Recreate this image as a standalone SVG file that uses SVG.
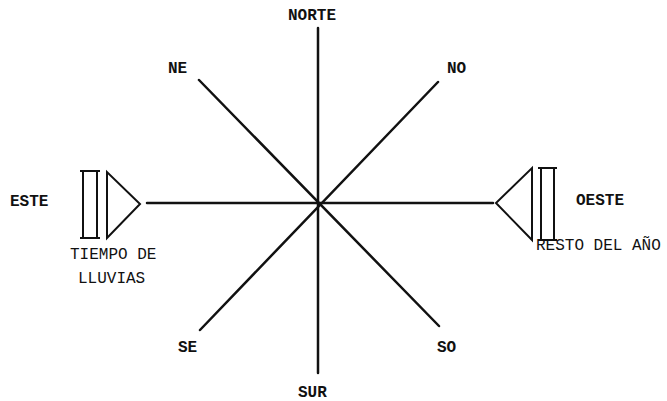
<svg xmlns="http://www.w3.org/2000/svg" width="667" height="401" viewBox="0 0 667 401">
<style>
.ln{stroke:#111;stroke-width:2.5;fill:none;stroke-linecap:round}
.sym{stroke:#111;stroke-width:2;fill:none;stroke-linejoin:miter}
.t{font-family:"Liberation Mono","DejaVu Sans Mono",monospace;font-size:16px;fill:#111}
.b{font-weight:bold}
</style>
<rect width="667" height="401" fill="#fff"/>
<g id="connectors">
<line class="ln" x1="318" y1="28" x2="318" y2="373"/>
<line class="ln" x1="199" y1="80" x2="439" y2="326"/>
<line class="ln" x1="438" y1="82" x2="200" y2="330"/>
<line class="ln" x1="147" y1="203" x2="493" y2="203"/>
</g>
<g id="este-symbol">
<rect class="sym" x="83" y="171" width="14" height="67"/>
<line class="sym" x1="80" y1="171" x2="100" y2="171"/>
<line class="sym" x1="80" y1="238" x2="100" y2="238"/>
<polygon class="sym" points="107,172 107,238 140,204"/>
</g>
<g id="oeste-symbol">
<polygon class="sym" points="532,168 532,240 496,203"/>
<rect class="sym" x="541" y="168" width="13" height="72"/>
<line class="sym" x1="538" y1="168" x2="557" y2="168"/>
<line class="sym" x1="538" y1="240" x2="557" y2="240"/>
</g>
<g id="labels">
<text class="t b" x="288" y="20">NORTE</text>
<text class="t b" x="168" y="73">NE</text>
<text class="t b" x="447" y="73">NO</text>
<text class="t b" x="178" y="352">SE</text>
<text class="t b" x="437" y="352">SO</text>
<text class="t b" x="298" y="397">SUR</text>
<text class="t b" x="10" y="206">ESTE</text>
<text class="t b" x="576" y="205">OESTE</text>
<text class="t" x="536" y="250">RESTO DEL AÑO</text>
<text class="t" x="70" y="259">TIEMPO DE</text>
<text class="t" x="78" y="283">LLUVIAS</text>
</g>
</svg>
